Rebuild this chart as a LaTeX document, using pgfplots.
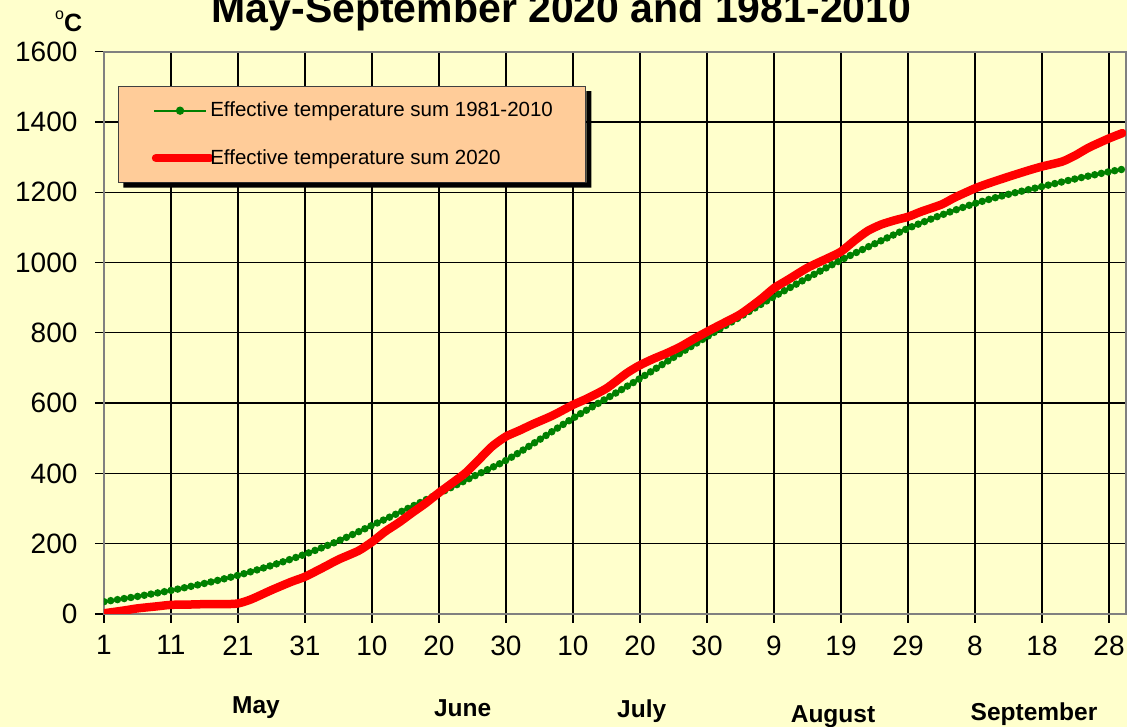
\documentclass[border=0pt]{standalone}
\usepackage{pgfplots}
\pgfplotsset{compat=1.18}
\usepackage{fontspec}
\setmainfont{Liberation Sans}
\definecolor{bgyellow}{HTML}{FFFFCC}
\definecolor{peach}{HTML}{FFCC99}
\definecolor{dkgreen}{HTML}{008000}
\definecolor{ltred}{HTML}{FF0000}

\pgfplotstableread{
day val
0 35
5 50
10 67
15 87
20 110
25 138
30 170
35 208
40 252
45 297
50 343
55 390
60 437
65 496
70 557
75 613
80 670
85 730
90 789
95 846
100 903
105 956
110 1007
115 1053
120 1097
125 1135
130 1168
135 1194
140 1216
145 1238
150 1258
152 1265
}\normaltable

\pgfplotstableread{
day val
0 2
3 10
5 16
8 22
10 26
13 27
15 28
18 28
20 30
22 42
25 68
28 92
30 106
33 135
35 155
38 180
40 205
42 235
44 260
46 288
48 315
50 345
52 373
54 402
56 440
58 478
60 505
62 522
64 540
67 565
70 595
72 612
75 642
78 685
80 708
82 726
84 742
86 760
88 782
90 803
92 823
95 853
98 895
100 927
102 950
105 985
108 1012
110 1031
112 1062
114 1090
116 1108
118 1120
120 1130
122 1145
125 1165
127 1185
130 1211
132 1225
135 1244
138 1262
140 1273
143 1287
145 1305
147 1327
150 1353
152 1368
}\yeartable

\begin{document}
\begin{tikzpicture}
\fill[bgyellow] (-104pt,-113pt) rectangle (1023pt,614pt);
\begin{axis}[
  at={(0pt,0pt)}, anchor=south west,
  scale only axis, width=1021.75pt, height=562.4pt,
  xmin=0, xmax=152.5, ymin=0, ymax=1600,
  axis background/.style={fill=bgyellow},
  xtick={0,10,...,150},
  xticklabels={1,11,21,31,10,20,30,10,20,30,9,19,29,8,18,28},
  ytick={0,200,...,1600},
  grid=major,
  grid style={black, line width=1.3pt},
  axis line style={draw=gray, line width=2pt},
  tick align=outside, xtick pos=bottom, ytick pos=left,
  major tick length=9pt,
  tick style={black, line width=1.3pt},
  ticklabel style={font=\fontsize{28}{28}\selectfont},
  /pgf/number format/assume math mode=true,
  /pgf/number format/1000 sep={},
  yticklabel style={xshift=-14pt},
  xticklabel style={yshift=-9pt},
  legend style={
    name=leg,
    at={(rel axis cs:0.014,0.9388)}, anchor=north west,
    fill=peach, draw=black!75, line width=1pt,
    font=\fontsize{20.5}{24}\selectfont,
    inner xsep=33pt, inner ysep=15.5pt,
    nodes={inner sep=0pt, text depth=0.25em},
    row sep=30pt, column sep=-4pt},
  legend cell align=left,
]
\addplot[dkgreen, line width=2.2pt, smooth,
  legend image code/.code={
    \draw[dkgreen, line width=2pt] (0pt,0pt) -- (52pt,0pt);
    \fill[dkgreen] (26pt,0pt) circle (3pt);}]
  table[x=day, y=val] {\normaltable};
\addlegendentry{Effective temperature sum 1981-2010}
\addplot[dkgreen, line width=7.5pt, smooth, line cap=round,
  dash pattern=on 0pt off 6.8pt, forget plot]
  table[x=day, y=val] {\normaltable};
\addplot[ltred, line width=8.5pt, smooth, tension=0.4, line cap=round, line join=round,
  legend image code/.code={
    \draw[ltred, line width=8.5pt, line cap=round] (2pt,0pt) -- (56pt,0pt);}]
  table[x=day, y=val] {\yeartable};
\addlegendentry{Effective temperature sum 2020}
\end{axis}
\fill[black] ([yshift=-5pt]leg.north east) -- ([xshift=5pt,yshift=-5pt]leg.north east)
  -- ([xshift=5pt,yshift=-5pt]leg.south east) -- ([xshift=5pt,yshift=-5pt]leg.south west)
  -- ([xshift=5pt]leg.south west) -- (leg.south east) -- cycle;
\node[anchor=base, font=\bfseries\fontsize{41}{41}\selectfont, inner sep=0pt]
  at (457.5pt,591pt) {May-September 2020 and 1981-2010};
\node[anchor=base west, inner sep=0pt, font=\bfseries\fontsize{25}{25}\selectfont]
  at (-49pt,582pt) {\raisebox{12pt}{\mdseries\fontsize{16}{16}\selectfont o}C};
\begin{scope}[every node/.style={anchor=base, inner sep=0pt, font=\bfseries\fontsize{24.5}{24.5}\selectfont}]
\node at (152pt,-100pt) {May};
\node at (358.6pt,-102.7pt) {June};
\node at (537.7pt,-103.3pt) {July};
\node at (729pt,-108.3pt) {August};
\node at (930pt,-106.7pt) {September};
\end{scope}
\pgfresetboundingbox
\useasboundingbox (-104pt,-113pt) rectangle (1023pt,614pt);
\end{tikzpicture}
\end{document}
